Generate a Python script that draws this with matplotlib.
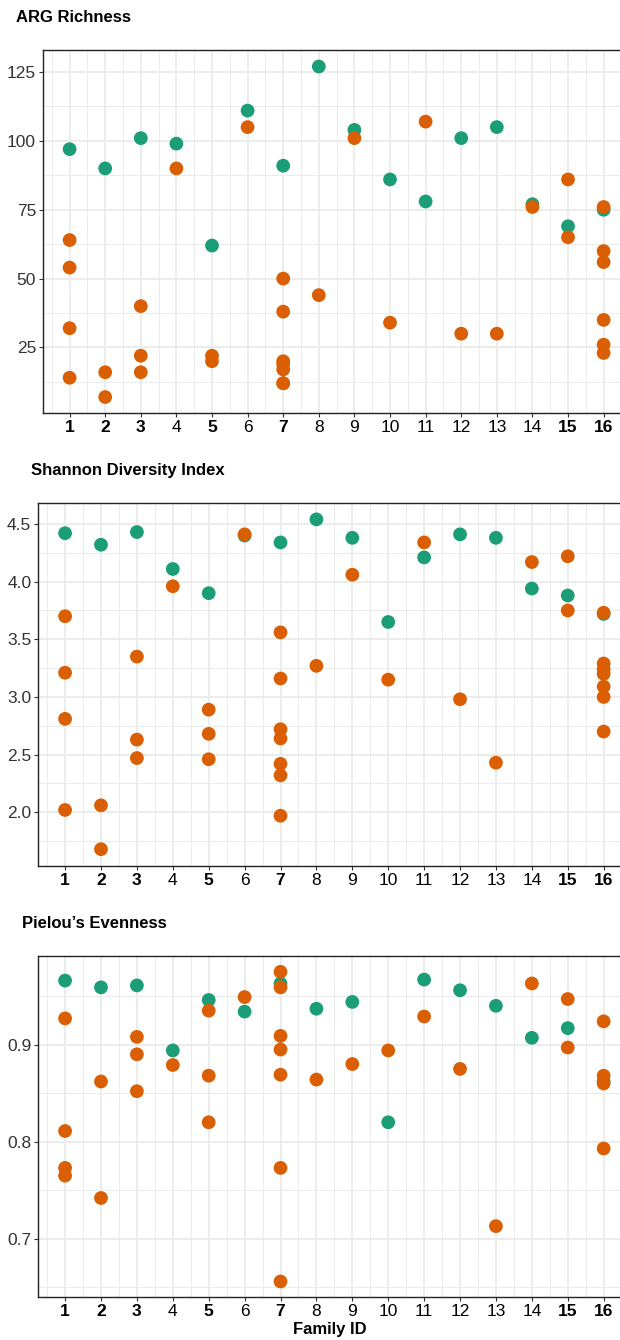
import numpy as np
import matplotlib
matplotlib.use("Agg")
import matplotlib.pyplot as plt
from matplotlib.ticker import MultipleLocator, FixedLocator

plt.rcParams['font.family'] = ['Liberation Sans', 'DejaVu Sans']

# Colours (Dark2)
TEAL = '#1B9E77'
ORANGE = '#D95F02'
GRID = '#EBEBEB'

families = list(range(1, 17))
bold_ids = [1, 2, 3, 5, 7, 15, 16]

# ARG Richness
rich_teal_fam = families
rich_teal = [97, 90, 101, 99, 62, 111, 91, 127, 104, 86, 78, 101, 105, 77, 69, 75]
rich_orange_fam = [1, 1, 1, 1, 2, 2, 3, 3, 3, 4, 5, 5, 6, 7, 7, 7, 7, 7, 7, 7,
                   8, 9, 10, 11, 12, 13, 14, 15, 15, 16, 16, 16, 16, 16, 16]
rich_orange = [64, 54, 32, 14, 16, 7, 40, 22, 16, 90, 22, 20, 105, 50, 38, 20, 19, 17, 12, 12,
               44, 101, 34, 107, 30, 30, 76, 86, 65, 76, 60, 56, 35, 26, 23]

# Shannon Diversity Index
shan_teal_fam = families
shan_teal = [4.42, 4.32, 4.43, 4.11, 3.90, 4.40, 4.34, 4.54, 4.38, 3.65, 4.21, 4.41,
             4.38, 3.94, 3.88, 3.72]
shan_orange_fam = [1, 1, 1, 1, 2, 2, 3, 3, 3, 4, 5, 5, 5, 6, 7, 7, 7, 7, 7, 7, 7,
                   8, 9, 10, 11, 12, 13, 14, 15, 15, 16, 16, 16, 16, 16, 16, 16]
shan_orange = [3.70, 3.21, 2.81, 2.02, 2.06, 1.68, 3.35, 2.63, 2.47, 3.96, 2.89, 2.68, 2.46,
               4.41, 3.56, 3.16, 2.72, 2.64, 2.42, 2.32, 1.97,
               3.27, 4.06, 3.15, 4.34, 2.98, 2.43, 4.17, 4.22, 3.75,
               3.73, 3.29, 3.24, 3.20, 3.09, 3.00, 2.70]

# Pielou's Evenness
piel_teal_fam = families
piel_teal = [0.966, 0.959, 0.961, 0.894, 0.946, 0.934, 0.963, 0.937, 0.944, 0.820,
             0.967, 0.956, 0.940, 0.907, 0.917, 0.862]
piel_orange_fam = [1, 1, 1, 1, 2, 2, 3, 3, 3, 4, 5, 5, 5, 6, 7, 7, 7, 7, 7, 7, 7,
                   8, 9, 10, 11, 12, 13, 14, 15, 15, 16, 16, 16, 16]
piel_orange = [0.927, 0.811, 0.773, 0.765, 0.862, 0.742, 0.908, 0.890, 0.852, 0.879,
               0.935, 0.868, 0.820, 0.949, 0.975, 0.959, 0.909, 0.895, 0.869, 0.773, 0.656,
               0.864, 0.880, 0.894, 0.929, 0.875, 0.713, 0.963, 0.947, 0.897,
               0.924, 0.868, 0.860, 0.793]

W, H = 620, 1340
fig = plt.figure(figsize=(W / 100, H / 100), dpi=100)


def make_panel(rect_px, xlim, ylim, major, minor, labels, tf, tv, of, ov, title, title_xy):
    left, top, right, bottom = rect_px
    ax = fig.add_axes([left / W, 1 - bottom / H, (right - left) / W, (bottom - top) / H])
    ax.set_xlim(*xlim)
    ax.set_ylim(*ylim)
    ax.xaxis.set_major_locator(FixedLocator(families))
    ax.xaxis.set_minor_locator(FixedLocator([f + 0.5 for f in range(0, 17)]))
    ax.yaxis.set_major_locator(FixedLocator(major))
    ax.yaxis.set_minor_locator(FixedLocator(minor))
    ax.grid(True, which='major', color=GRID, lw=1.3, zorder=0)
    ax.grid(True, which='minor', color=GRID, lw=0.7, zorder=0)
    ax.set_axisbelow(True)
    ax.scatter(tf, tv, s=98, color=TEAL, edgecolors='none', zorder=3)
    ax.scatter(of, ov, s=98, color=ORANGE, edgecolors='none', zorder=4)
    ax.set_xticks(families)
    ax.set_xticklabels([str(f) for f in families])
    for f, lab in zip(families, ax.get_xticklabels()):
        lab.set_fontweight('bold' if f in bold_ids else 'normal')
        lab.set_color('black')
    ax.set_yticks(major)
    ax.set_yticklabels(labels)
    ax.tick_params(axis='both', which='major', length=3, width=0.8, color='#333333',
                   labelsize=12.5, pad=2)
    ax.tick_params(axis='y', labelcolor='#333333')
    ax.tick_params(which='minor', length=0)
    ax.spines['right'].set_visible(False)
    for s in ['left', 'bottom', 'top']:
        ax.spines[s].set_color('#222222')
        ax.spines[s].set_linewidth(1.0)
    fig.text(title_xy[0] / W, 1 - title_xy[1] / H, title, fontsize=12,
             fontweight='bold', ha='left', va='baseline')
    return ax


make_panel((43, 50, 622, 413), (0.253, 16.516), (1.2, 133.0),
           [25, 50, 75, 100, 125], [12.5, 37.5, 62.5, 87.5, 112.5],
           ['25', '50', '75', '100', '125'],
           rich_teal_fam, rich_teal, rich_orange_fam, rich_orange,
           'ARG Richness', (15.5, 22))

make_panel((38.3, 503, 622, 866), (0.254, 16.511), (1.534, 4.682),
           [2.0, 2.5, 3.0, 3.5, 4.0, 4.5], [1.75, 2.25, 2.75, 3.25, 3.75, 4.25],
           ['2.0', '2.5', '3.0', '3.5', '4.0', '4.5'],
           shan_teal_fam, shan_teal, shan_orange_fam, shan_orange,
           'Shannon Diversity Index', (31, 475))

ax3 = make_panel((38.3, 956.3, 622, 1297), (0.254, 16.511), (0.640, 0.991),
                 [0.7, 0.8, 0.9], [0.65, 0.75, 0.85, 0.95],
                 ['0.7', '0.8', '0.9'],
                 piel_teal_fam, piel_teal, piel_orange_fam, piel_orange,
                 "Pielou’s Evenness", (21.5, 928.5))
ax3.set_xlabel('Family ID', fontsize=12, fontweight='bold', labelpad=2)

fig.savefig('out.png', dpi=100)
